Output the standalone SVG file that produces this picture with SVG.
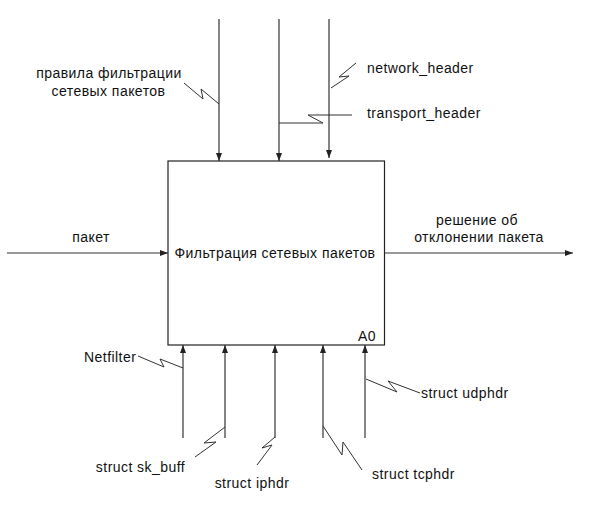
<svg xmlns="http://www.w3.org/2000/svg" width="598" height="507" viewBox="0 0 598 507">
<defs>
<marker id="ah" markerWidth="8" markerHeight="6" refX="8" refY="3" orient="auto" markerUnits="userSpaceOnUse">
<path d="M0,0 L8,3 L0,6 Z" fill="#222"/>
</marker>
<style>
.t{font-family:"Liberation Sans",Arial,sans-serif;font-size:14px;letter-spacing:0.45px;fill:#111}
.m{text-anchor:middle}
.e{text-anchor:end}
.a{stroke:#333;stroke-width:1.2;fill:none;marker-end:url(#ah)}
.s{stroke:#333;stroke-width:1;fill:none}
</style>
</defs>
<rect width="598" height="507" fill="#fff"/>
<g id="A0">
<rect x="168" y="161" width="216.5" height="184" fill="#fff" stroke="#222" stroke-width="1.2"/>
<text class="t m" x="275" y="258">Фильтрация сетевых пакетов</text>
<text class="t e" x="376" y="341">A0</text>
</g>
<g id="connectors">
<line class="a" x1="219" y1="19" x2="219" y2="161"/>
<line class="a" x1="279" y1="19" x2="279" y2="161"/>
<line class="a" x1="329" y1="19" x2="329" y2="158"/>
<line class="a" x1="7" y1="253" x2="168" y2="253"/>
<line class="a" x1="384.5" y1="253" x2="573" y2="253"/>
<line class="a" x1="183" y1="438" x2="183" y2="345"/>
<line class="a" x1="225" y1="438" x2="225" y2="345"/>
<line class="a" x1="275" y1="438" x2="275" y2="345"/>
<line class="a" x1="323" y1="438" x2="323" y2="345"/>
<line class="a" x1="365" y1="438" x2="365" y2="345"/>
<path class="s" d="M184,83 L203,99 L201,89 L219,104"/>
<path class="s" d="M356,63 L339,77 L349,76 L331,88"/>
<path class="s" d="M279,123 H323 L308,115 H352"/>
<path class="s" d="M138,356 L164,367 L160,359 L183,368"/>
<path class="s" d="M225,427 L204,443 L216,442 L195,457"/>
<path class="s" d="M275,437 L262,448 L272,445 L257,465"/>
<path class="s" d="M323,426 L342,455 L343,442 L362,470"/>
<path class="s" d="M366,379 L397,392 L388,381 L420,393"/>
</g>
<g id="labels">
<text class="t m" x="109" y="78">правила фильтрации</text>
<text class="t m" x="108.5" y="96">сетевых пакетов</text>
<text class="t" x="367" y="73">network_header</text>
<text class="t" x="367" y="118">transport_header</text>
<text class="t m" x="91" y="242">пакет</text>
<text class="t m" x="477" y="225">решение об</text>
<text class="t m" x="479" y="242">отклонении пакета</text>
<text class="t" x="84" y="362">Netfilter</text>
<text class="t m" x="140.5" y="472">struct sk_buff</text>
<text class="t m" x="252" y="488">struct iphdr</text>
<text class="t m" x="413.5" y="479">struct tcphdr</text>
<text class="t" x="421" y="398">struct udphdr</text>
</g>
</svg>
